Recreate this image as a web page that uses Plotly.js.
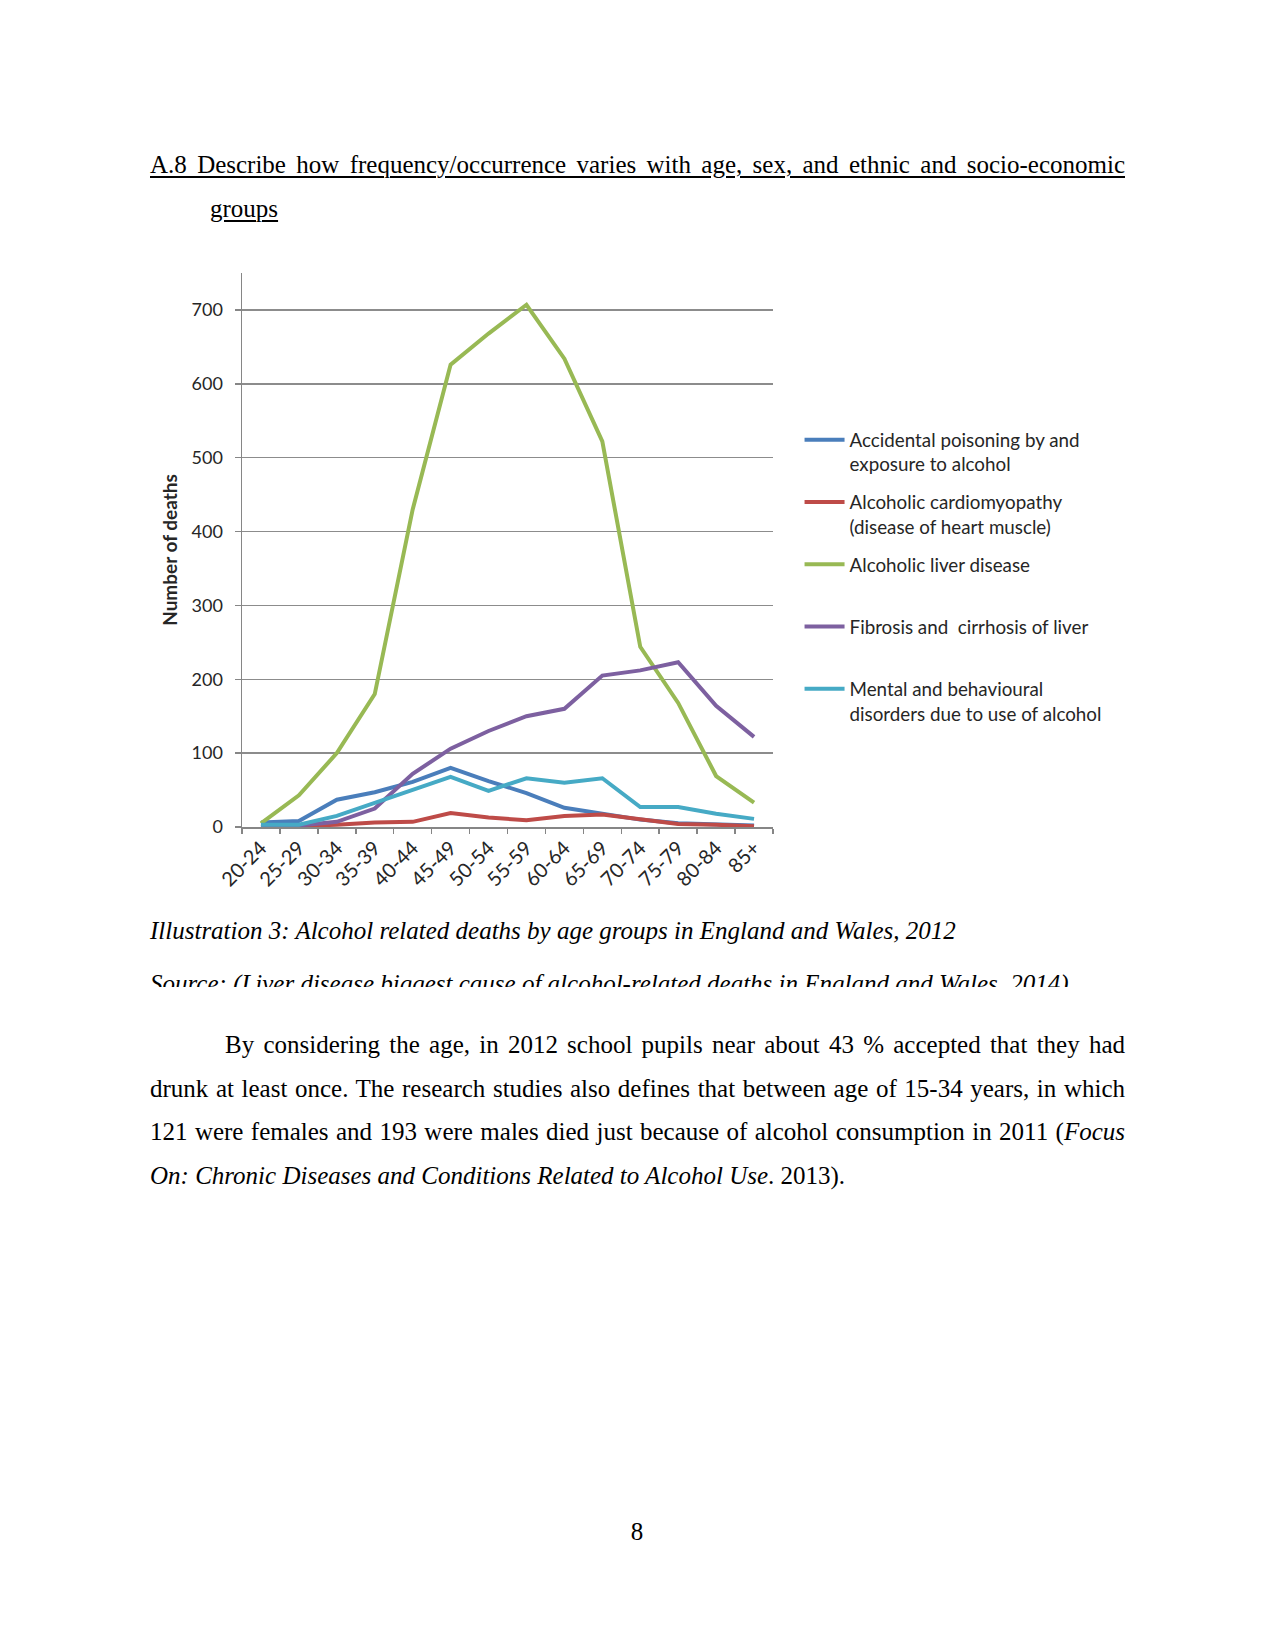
<!DOCTYPE html>
<html>
<head>
<meta charset="utf-8">
<script src="https://cdn.plot.ly/plotly-3.0.1.min.js"></script>
<style>
  html, body { margin: 0; padding: 0; background: #ffffff; }
  #page { position: relative; width: 1275px; height: 1650px; background: #ffffff; overflow: hidden;
          font-family: "Liberation Serif", "Times New Roman", serif; font-size: 25px; color: #000; }
  .blk { position: absolute; line-height: 43.6px; }
  .just { text-align: justify; text-align-last: justify; white-space: nowrap; }
  .u { text-decoration: underline; text-decoration-thickness: 1.5px; text-underline-offset: 3px; }
  #chart { position: absolute; left: 150px; top: 250px; width: 980px; height: 660px; }
</style>
</head>
<body>
<div id="page">
  <div class="blk" style="left:150px; top:143px; width:975px;">
    <div class="just u">A.8 Describe how frequency/occurrence varies with age, sex, and ethnic and socio-economic</div>
    <div style="padding-left:60px;"><span class="u">groups</span></div>
  </div>

  <div id="chart"></div>

  <div class="blk" style="left:150px; top:909px; width:975px; font-style:italic;">Illustration 3: Alcohol related deaths by age groups in England and Wales, 2012</div>
  <div style="position:absolute; left:150px; top:960px; width:975px; height:27px; overflow:hidden;">
    <div class="blk" style="left:0; top:2px; width:975px; font-style:italic; white-space:nowrap;">Source: (Liver disease biggest cause of alcohol-related deaths in England and Wales, 2014)</div>
  </div>

  <div class="blk" style="left:150px; top:1023px; width:975px;">
    <div class="just" style="padding-left:75px;">By considering the age, in 2012 school pupils near about 43 % accepted that they had</div>
    <div class="just">drunk at least once. The research studies also defines that between age of 15-34 years, in which</div>
    <div class="just">121 were females and 193 were males died just because of alcohol consumption in 2011 (<i>Focus</i></div>
    <div><i>On: Chronic Diseases and Conditions Related to Alcohol Use</i>. 2013).</div>
  </div>

  <div class="blk" style="left:600px; top:1510px; width:74px; text-align:center;">8</div>
</div>

<script>
// ---- data ----
var ageGroups = ['20-24','25-29','30-34','35-39','40-44','45-49','50-54','55-59','60-64','65-69','70-74','75-79','80-84','85+'];
var accidentalPoisoning = [6, 8, 37, 47, 61, 80, 62, 46, 26, 18, 10, 5, 4, 2];
var cardiomyopathy      = [0, 1, 3, 6, 7, 19, 13, 9, 15, 17, 10, 4, 3, 1];
var liverDisease        = [5, 43, 100, 180, 430, 626, 668, 707, 634, 522, 244, 168, 69, 33];
var fibrosisCirrhosis   = [1, 2, 7, 25, 72, 106, 130, 150, 160, 205, 212, 223, 164, 122];
var mentalBehavioural   = [3, 3, 15, 33, 50, 68, 49, 66, 60, 66, 27, 27, 18, 11];

var seriesNames = [
  'Accidental poisoning by and<br>exposure to alcohol',
  'Alcoholic cardiomyopathy<br>(disease of heart muscle)',
  'Alcoholic liver disease<br>&nbsp;',
  'Fibrosis and  cirrhosis of liver<br>&nbsp;',
  'Mental and behavioural<br>disorders due to use of alcohol'
];
var seriesColors = ['#4A7EBB', '#BE4B48', '#98B954', '#7D60A0', '#46AAC5'];
var seriesValues = [accidentalPoisoning, cardiomyopathy, liverDisease, fibrosisCirrhosis, mentalBehavioural];

var traces = seriesValues.map(function (vals, i) {
  return {
    type: 'scatter', mode: 'lines',
    x: ageGroups, y: vals,
    name: seriesNames[i],
    legendgroup: 'g' + i,
    line: { color: seriesColors[i], width: 4 }
  };
});

var axisGrey = '#868686';
var layout = {
  width: 980, height: 660,
  margin: { l: 92, r: 357, t: 23, b: 83 },
  paper_bgcolor: 'rgba(0,0,0,0)', plot_bgcolor: 'rgba(0,0,0,0)',
  font: { family: 'Lato, "Open Sans", sans-serif', size: 17, color: '#262626' },
  showlegend: true,
  legend: {
    x: 1.05, xanchor: 'left', y: 0.733, yanchor: 'top',
    valign: 'top', traceorder: 'grouped', tracegroupgap: 10.4,
    itemwidth: 40, font: { size: 18.8, color: '#262626' },
    bgcolor: 'rgba(0,0,0,0)', borderwidth: 0
  },
  xaxis: {
    type: 'category', range: [-0.5, 13.5], tickson: 'boundaries',
    ticks: 'outside', ticklen: 5, tickwidth: 1.5, tickcolor: axisGrey,
    showline: true, linecolor: axisGrey, linewidth: 1.5,
    showgrid: false, zeroline: false, tickangle: -45,
    tickfont: { size: 20 }
  },
  yaxis: {
    range: [0, 750], tick0: 0, dtick: 100,
    ticks: 'outside', ticklen: 6, tickwidth: 1.5, tickcolor: axisGrey,
    ticklabelstandoff: 8,
    showline: true, linecolor: axisGrey, linewidth: 1.5,
    showgrid: true, gridcolor: '#8c8c8c', gridwidth: 1.5, zeroline: false,
    tickfont: { size: 18 },
    title: { text: '<b>Number of deaths</b>', font: { size: 19 }, standoff: 9 }
  }
};

Plotly.newPlot('chart', traces, layout, { staticPlot: true, displayModeBar: false });
</script>
</body>
</html>
